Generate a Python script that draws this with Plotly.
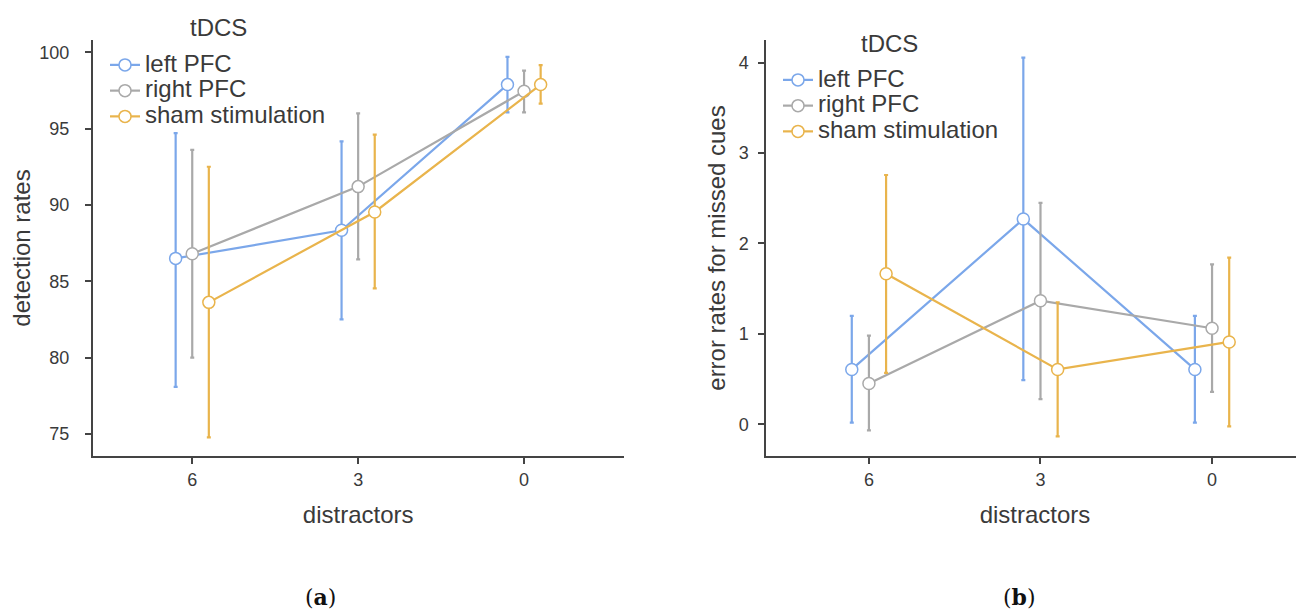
import plotly.graph_objects as go

categories = ["6", "3", "0"]
groups = ["left PFC", "right PFC", "sham stimulation"]
colors = ["#7ba7ea", "#a9a9a9", "#e9b44c"]
offsets = [-0.1, 0.0, 0.1]

# Panel (a): detection rates
det_mean = {
    "left PFC": [86.5, 88.34, 97.88],
    "right PFC": [86.8, 91.2, 97.44],
    "sham stimulation": [83.62, 89.54, 97.88],
}
det_upper = {
    "left PFC": [94.7, 94.16, 99.7],
    "right PFC": [93.6, 96.0, 98.8],
    "sham stimulation": [92.5, 94.6, 99.15],
}
det_lower = {
    "left PFC": [78.08, 82.5, 96.06],
    "right PFC": [80.0, 86.43, 96.06],
    "sham stimulation": [74.78, 84.53, 96.63],
}

# Panel (b): error rates for missed cues
err_mean = {
    "left PFC": [0.607, 2.27, 0.607],
    "right PFC": [0.452, 1.367, 1.063],
    "sham stimulation": [1.666, 0.607, 0.911],
}
err_upper = {
    "left PFC": [1.2, 4.055, 1.2],
    "right PFC": [0.98, 2.45, 1.77],
    "sham stimulation": [2.757, 1.35, 1.843],
}
err_lower = {
    "left PFC": [0.02, 0.489, 0.02],
    "right PFC": [-0.067, 0.278, 0.36],
    "sham stimulation": [0.57, -0.133, -0.022],
}

FONT = "Liberation Sans, Arial, sans-serif"
TXT = "#3a3a3a"

# page body has an 8px margin; figure fills the rest of the 1304x609 window
OFF = 8
W, H = 1304 - OFF, 609 - OFF


def px(x):
    return (x - OFF) / W


def py(y):
    return 1 - (y - OFF) / H


fig = go.Figure()


def add_panel(mean, upper, lower, xa, ya, legend):
    for g, c, off in zip(groups, colors, offsets):
        xs = [i + off for i in range(len(categories))]
        m = mean[g]
        fig.add_trace(go.Scatter(
            x=xs, y=m, name='<span style="font-size:24px">' + g + '</span>',
            mode="lines+markers",
            xaxis=xa, yaxis=ya, legend=legend,
            line=dict(color=c, width=2.2),
            marker=dict(symbol="circle", size=12, color="white",
                        line=dict(color=c, width=1.5)),
            error_y=dict(type="data", symmetric=False,
                         array=[u - v for u, v in zip(upper[g], m)],
                         arrayminus=[v - l for v, l in zip(m, lower[g])],
                         color=c, thickness=2.2, width=2),
        ))


add_panel(det_mean, det_upper, det_lower, "x", "y", "legend")
add_panel(err_mean, err_upper, err_lower, "x2", "y2", "legend2")

axis_common = dict(
    showline=True, linecolor="#444444", linewidth=1.5,
    ticks="outside", ticklen=6, tickcolor="#444444", tickwidth=1.5,
    showgrid=False, zeroline=False, automargin=False,
    tickfont=dict(family=FONT, size=18, color=TXT),
)
title_font = dict(family=FONT, size=24, color=TXT)

legend_common = dict(
    xanchor="left", yanchor="top",
    bgcolor="rgba(255,255,255,0)",
    font=dict(family=FONT, size=17.5, color=TXT),
    itemwidth=30, tracegroupgap=0,
)

fig.update_layout(
    width=W, height=H,
    margin=dict(l=0, r=0, t=0, b=0),
    paper_bgcolor="white", plot_bgcolor="white",
    font=dict(family=FONT, color=TXT),
    showlegend=True,
    xaxis=dict(domain=[px(92.7), px(623.6)], range=[-0.6, 2.6],
               tickvals=[0, 1, 2], ticktext=categories, anchor="y",
               ticklabelstandoff=1,
               title=dict(text="distractors", font=title_font, standoff=17),
               **axis_common),
    yaxis=dict(domain=[py(456), py(40)], range=[73.56, 100.8],
               tickvals=[75, 80, 85, 90, 95, 100], anchor="x",
               ticklabelstandoff=12,
               title=dict(text="detection rates", font=title_font, standoff=2),
               **axis_common),
    xaxis2=dict(domain=[px(766), 1.0], range=[-0.6, 2.536],
                tickvals=[0, 1, 2], ticktext=categories, anchor="y2",
                ticklabelstandoff=1,
                title=dict(text="distractors", font=title_font, standoff=17),
                **axis_common),
    yaxis2=dict(domain=[py(456), py(40)], range=[-0.35, 4.25],
                tickvals=[0, 1, 2, 3, 4], anchor="x2",
                ticklabelstandoff=6,
                title=dict(text="error rates for missed cues", font=title_font, standoff=6),
                **axis_common),
    legend=dict(x=px(105), y=py(47), **legend_common),
    legend2=dict(x=px(778), y=py(62), **legend_common),
    annotations=[
        dict(text="tDCS", x=px(218), y=py(28), xref="paper", yref="paper",
             xanchor="center", yanchor="middle", showarrow=False, font=title_font),
        dict(text="tDCS", x=px(889), y=py(44), xref="paper", yref="paper",
             xanchor="center", yanchor="middle", showarrow=False, font=title_font),
        dict(text="(<b>a</b>)", x=px(320), y=py(597), xref="paper", yref="paper",
             xanchor="center", yanchor="middle", showarrow=False,
             font=dict(family="DejaVu Serif, serif", size=22, color="#111111")),
        dict(text="(<b>b</b>)", x=px(1019), y=py(597), xref="paper", yref="paper",
             xanchor="center", yanchor="middle", showarrow=False,
             font=dict(family="DejaVu Serif, serif", size=22, color="#111111")),
    ],
)

fig.write_html("out.html")
